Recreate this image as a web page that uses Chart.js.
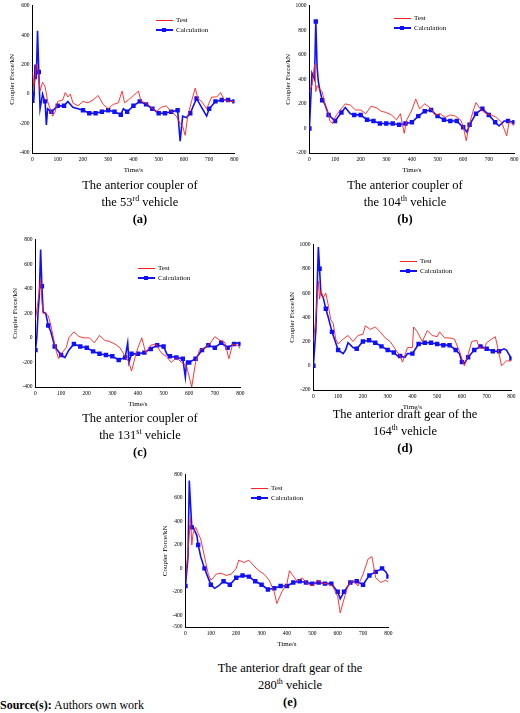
<!DOCTYPE html>
<html><head><meta charset="utf-8">
<script src="https://cdn.jsdelivr.net/npm/chart.js@4"></script>
<style>
body{margin:0;background:#fff;font-family:"Liberation Serif",serif;}
.box{position:absolute;}
.cap{position:absolute;text-align:center;font-size:12.5px;line-height:17px;color:#000;}
.cap sup{font-size:8px;line-height:0;vertical-align:5px;}
.lg{position:absolute;font-size:7px;line-height:10px;}
.lg span.l{display:inline-block;width:17px;height:0;vertical-align:middle;margin-right:3px;position:relative;}
</style></head><body>
<script>
// (a) 53rd vehicle
var aTestT=[0,5,10,15,20,25,30,40,50,60,70,80,90,100,120,130,140,150,160,180,200,220,240,260,280,300,320,340,355,365,380,400,420,430,450,470,490,510,530,550,570,585,595,605,615,630,645,655,670,690,710,730,745,760,780,800];
var aTestV=[150,50,100,200,180,120,20,80,50,-50,-100,-150,-120,-50,-40,10,-20,0,-60,-80,-50,-60,-40,-10,-70,-100,-70,-60,20,-60,-40,-10,20,-50,-60,-90,-120,-90,-80,-120,-150,-200,-220,-280,-150,-50,40,-30,-50,-100,-20,-20,10,-40,-50,-50];
var aCalcT=[0,5,10,15,20,25,30,40,45,50,55,60,75,100,125,140,160,180,200,225,250,275,300,325,350,360,375,400,425,450,475,500,525,550,575,585,595,610,625,650,670,690,700,725,750,775,800];
var aCalcV=[0,-60,200,100,430,150,-100,0,-30,-50,-210,-100,-120,-80,-80,-50,-90,-100,-110,-130,-130,-120,-110,-120,-140,-100,-120,-80,-50,-70,-100,-130,-130,-120,-110,-320,-150,-160,-130,-30,-90,-150,-100,-50,-40,-40,-50];
// (b) 104th vehicle
var bTestT=[0,10,20,25,30,40,50,60,70,80,90,100,120,140,160,180,200,220,240,260,280,300,320,340,355,370,380,400,415,430,450,470,490,510,530,550,570,590,600,612,625,640,650,670,690,710,730,750,770,780,800];
var bTestV=[300,350,520,300,350,320,300,200,150,60,40,90,150,200,190,150,150,120,180,170,140,130,110,70,120,-40,70,150,240,160,200,170,110,120,90,110,100,70,20,-100,40,150,210,150,120,110,90,50,-60,60,20];
var bCalcT=[0,10,20,25,30,35,40,50,60,75,100,125,140,160,175,200,225,250,275,300,325,350,375,400,425,450,475,500,525,550,575,600,615,625,650,675,700,725,740,760,775,800];
var bCalcV=[0,450,400,870,500,380,320,230,200,110,60,130,170,120,110,110,70,60,40,40,40,30,40,50,100,140,150,100,70,60,60,10,-30,30,120,160,110,50,20,60,60,50];
// (c) 131st vehicle
var cTestT=[0,10,20,25,30,40,50,60,70,80,90,100,120,130,150,170,190,210,230,250,270,290,310,330,350,365,375,390,400,415,430,450,470,490,510,530,550,570,590,610,625,640,660,680,700,720,740,755,770,790,800];
var cTestV=[150,300,480,300,200,200,180,100,0,-100,-170,-130,-80,0,50,10,0,0,-40,20,-20,-30,-50,-80,-150,-200,-270,-150,-80,0,-120,-60,-50,-120,-150,-200,-160,-200,-230,-400,-200,-100,-80,-50,10,-20,-40,-170,-50,-60,-90];
var cCalcT=[0,5,10,15,20,25,30,40,50,60,75,100,115,130,150,175,200,225,250,275,300,325,350,360,365,375,400,425,450,475,500,515,525,550,575,585,590,600,625,650,675,700,725,750,775,790,800];
var cCalcV=[-100,0,200,350,720,420,210,200,100,50,-70,-140,-160,-100,-50,-70,-80,-110,-130,-140,-150,-180,-160,-40,-200,-130,-130,-120,-90,-60,-70,-140,-150,-160,-170,-320,-190,-200,-170,-100,-60,-80,-40,-80,-50,-40,-50];
// (d) 164th vehicle
var dTestT=[0,10,20,25,30,40,50,60,70,80,90,100,120,140,160,180,200,210,230,250,270,290,310,330,350,360,380,400,405,420,440,460,480,500,510,530,550,570,590,600,610,620,640,660,670,690,700,720,735,750,760,780,800];
var dTestV=[200,400,700,550,620,560,600,500,380,350,220,180,220,250,200,250,260,330,300,320,280,230,200,140,80,30,150,150,320,280,200,290,250,240,280,230,230,220,120,60,0,60,200,210,150,140,190,220,240,100,0,40,40];
var dCalcT=[0,10,20,25,30,40,50,60,75,100,120,130,140,160,175,200,225,250,275,300,325,340,350,370,380,400,425,450,475,500,525,550,575,590,600,610,625,650,675,700,725,750,770,780,800];
var dCalcV=[0,300,980,800,600,560,470,400,280,130,100,130,190,150,140,200,210,190,160,130,110,80,80,70,100,100,180,190,190,180,170,170,130,100,30,20,70,130,160,140,120,120,140,130,60];
// (e) 280th vehicle
var eTestT=[0,10,20,25,30,40,50,60,70,80,90,100,110,120,140,160,180,200,210,230,250,270,290,310,330,350,360,380,400,410,420,440,460,480,500,520,540,560,580,600,610,620,640,660,680,700,720,735,750,770,790,800];
var eTestV=[-100,150,430,200,300,350,300,250,150,50,-50,-100,-80,-50,-40,-60,-50,0,70,50,70,20,-20,-50,-100,-200,-300,-200,-130,-20,-50,-110,-80,-130,-150,-100,-130,-130,-150,-240,-380,-300,-150,-100,-150,-50,80,100,-80,-120,-100,-120];
var eCalcT=[0,10,15,20,25,30,45,50,60,75,100,115,130,150,175,200,225,250,275,300,325,350,375,400,425,450,475,500,525,550,575,600,610,625,650,675,700,725,750,775,790,800];
var eCalcV=[-150,100,750,540,350,350,280,200,100,0,-140,-170,-150,-110,-140,-80,-60,-70,-110,-140,-180,-170,-150,-150,-120,-110,-120,-130,-120,-130,-130,-200,-260,-200,-120,-110,-140,-60,-30,0,-30,-70];

var xTicks=[0,100,200,300,400,500,600,700,800];

function pts(t,v){return t.map(function(x,i){return {x:x,y:v[i]};});}

function make(left,top,w,h,tT,tV,cT,cV,ymin,ymax){
  var d=document.createElement('div');d.className='box';
  d.style.left=left+'px';d.style.top=top+'px';d.style.width=w+'px';d.style.height=h+'px';
  var c=document.createElement('canvas');d.appendChild(c);document.body.appendChild(d);
  var tf={family:'Liberation Serif',size:5.5};
  new Chart(c.getContext('2d'),{
    type:'line',
    data:{datasets:[
      {label:'Test',data:pts(tT,tV),borderColor:'#ff2020',borderWidth:0.9,pointRadius:0,tension:0},
      {label:'Calculation',data:pts(cT,cV),borderColor:'#1010ff',backgroundColor:'#1010ff',borderWidth:1.6,
       pointStyle:'rect',pointRadius:function(ctx){var p=ctx.raw;return p&&p.x%25===0?2:0;},tension:0}
    ]},
    options:{responsive:true,maintainAspectRatio:false,animation:false,
      layout:{padding:{top:2,right:4}},
      plugins:{legend:{display:false},tooltip:{enabled:false}},
      scales:{
        x:{type:'linear',min:0,max:800,grid:{display:false,tickLength:2},border:{color:'#000'},
           afterBuildTicks:function(s){s.ticks=xTicks.map(function(v){return {value:v};});},
           ticks:{font:tf,color:'#000',padding:1,maxRotation:0,callback:function(v){return String(v);}},
           title:{display:true,text:'Time/s',font:{family:'Liberation Serif',size:7},color:'#000',padding:{top:2}}},
        y:{min:ymin,max:ymax,grid:{display:false,tickLength:2},border:{color:'#000'},
           ticks:{stepSize:200,font:tf,color:'#000',padding:1,callback:function(v){return String(v);}},
           title:{display:true,text:'Coupler Force/kN',font:{family:'Liberation Serif',size:7},color:'#000',padding:{bottom:2}}}
      }
    }
  });
}
function legend(x,y){
  var d=document.createElement('div');d.className='lg';d.style.left=x+'px';d.style.top=y+'px';
  d.innerHTML='<div><span class="l" style="border-top:1px solid #ff2020"></span>Test</div>'+
    '<div><span class="l" style="border-top:2px solid #1010ff"><i style="position:absolute;left:6px;top:-3px;width:4px;height:4px;background:#1010ff"></i></span>Calculation</div>';
  document.body.appendChild(d);
}
function cap(x,y,w,html){
  var d=document.createElement('div');d.className='cap';d.style.left=x+'px';d.style.top=y+'px';d.style.width=w+'px';
  d.innerHTML=html;document.body.appendChild(d);
}
make(4,0,236,178,aTestT,aTestV,aCalcT,aCalcV,-400,600);
make(280,0,240,178,bTestT,bTestV,bCalcT,bCalcV,-200,1000);
make(7,234,239,178,cTestT,cTestV,cCalcT,cCalcV,-400,800);
make(284,239,233,176,dTestT,dTestV,dCalcT,dCalcV,-200,1000);
make(157,469,237,183,eTestT,eTestV,eCalcT,eCalcV,-500,800);
legend(156,15);legend(394,13);legend(138,263);legend(400,256);legend(251,483);
cap(20,177,240,'The anterior coupler of<br>the 53<sup>rd</sup> vehicle<br><b>(a)</b>');
cap(290,177,230,'The anterior coupler of<br>the 104<sup>th</sup> vehicle<br><b>(b)</b>');
cap(20,410,240,'The anterior coupler of<br>the 131<sup>st</sup> vehicle<br><b>(c)</b>');
cap(290,406,230,'The anterior draft gear of the<br>164<sup>th</sup> vehicle<br><b>(d)</b>');
cap(170,660,240,'The anterior draft gear of the<br>280<sup>th</sup> vehicle<br><b>(e)</b>');
var s=document.createElement('div');s.style.cssText='position:absolute;left:0;top:698px;font-size:12px;';
s.innerHTML='<b>Source(s):</b> Authors own work';document.body.appendChild(s);
</script>
</body></html>
